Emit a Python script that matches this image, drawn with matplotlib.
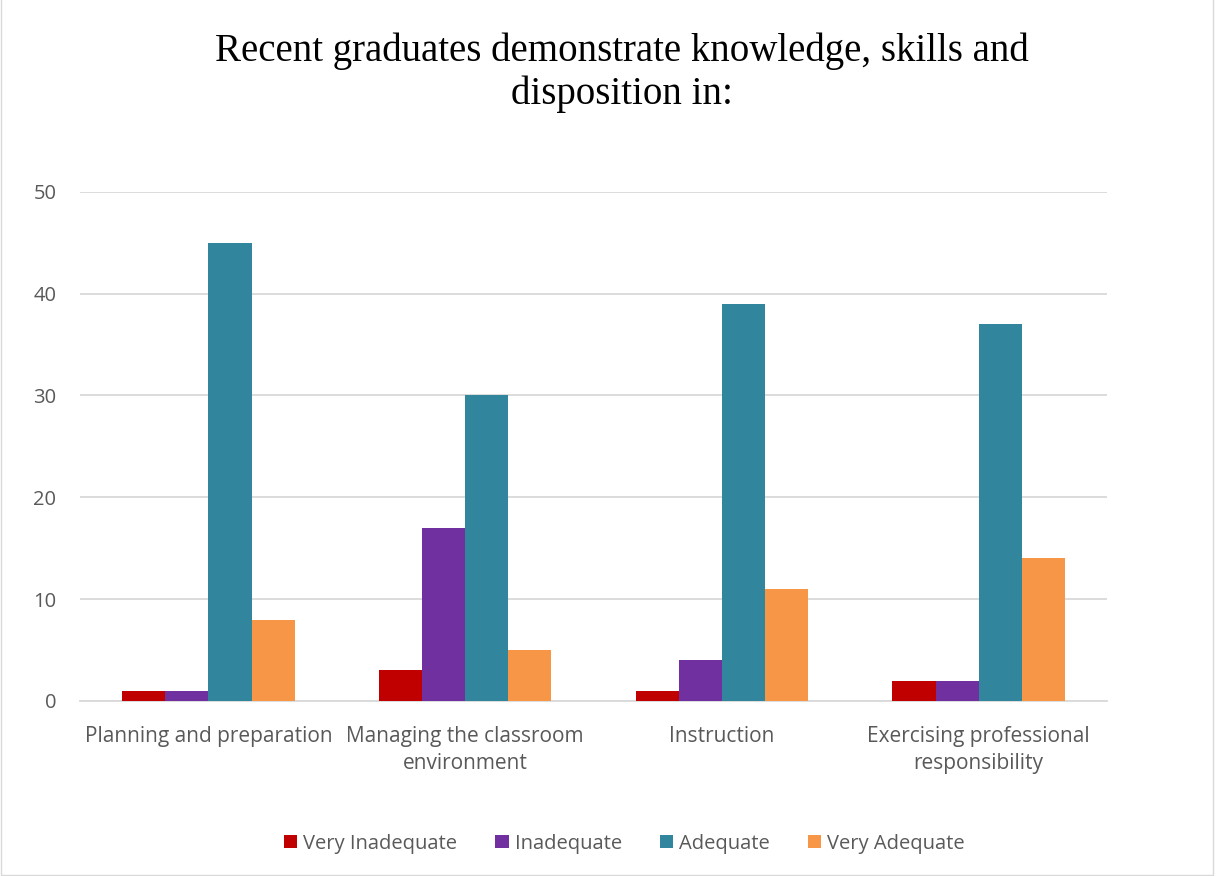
import matplotlib.pyplot as plt
import numpy as np
from matplotlib.patches import Rectangle

categories = ['Planning and preparation', 'Managing the classroom\nenvironment',
              'Instruction', 'Exercising professional\nresponsibility']
series = ['Very Inadequate', 'Inadequate', 'Adequate', 'Very Adequate']
very_inadequate = [1, 3, 1, 2]
inadequate = [1, 17, 4, 2]
adequate = [45, 30, 39, 37]
very_adequate = [8, 5, 11, 14]
colors = ['#C00000', '#7030A0', '#31859C', '#F79646']

values = [very_inadequate, inadequate, adequate, very_adequate]

plt.rcParams['font.family'] = 'Open Sans'

fig = plt.figure(figsize=(12.22, 8.76), dpi=100)
ax = fig.add_axes([0.0655, 0.1998, 0.8405, 0.5812])

x = np.arange(len(categories))
w = 0.168
for i, (name, vals) in enumerate(zip(series, values)):
    ax.bar(x + (i - 1.5) * w, vals, width=w, color=colors[i], label=name, zorder=3)

ax.set_xlim(-0.5, 3.5)
ax.set_ylim(0, 50)
ax.set_yticks(range(0, 51, 10))
ax.set_xticks(x)
ax.set_xticklabels(categories, fontsize=15, color='#595959', linespacing=1.4)
ax.tick_params(axis='y', labelsize=14.5, labelcolor='#595959', length=0, pad=17)
ax.tick_params(axis='x', length=0, pad=18)
ax.grid(axis='y', color='#D9D9D9', linewidth=1.3, zorder=0)
for s in ['top', 'right', 'left']:
    ax.spines[s].set_visible(False)
ax.spines['bottom'].set_color('#D9D9D9')
ax.spines['bottom'].set_linewidth(1.3)

fig.text(0.509, 0.917, 'Recent graduates demonstrate knowledge, skills and\ndisposition in:',
         ha='center', va='center', fontsize=28, family='Liberation Serif', linespacing=1.2)

leg = fig.legend(loc='center', bbox_to_anchor=(0.511, 0.037), ncol=4, frameon=False,
                 fontsize=14.5, handlelength=0.65, handleheight=0.65, handletextpad=0.3,
                 columnspacing=1.9)
for t in leg.get_texts():
    t.set_color('#595959')

fig.patches.append(Rectangle((0.001, 0.001), 0.992, 1.2, transform=fig.transFigure,
                             fill=False, edgecolor='#D9D9D9', linewidth=1))

fig.savefig('out.png', dpi=100)
